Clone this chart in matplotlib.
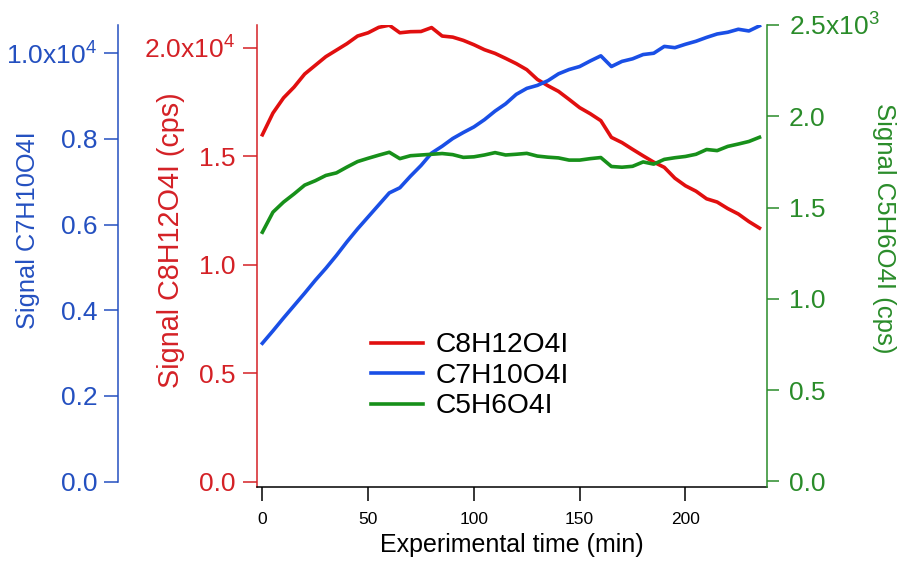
import matplotlib
matplotlib.use('Agg')
import matplotlib.pyplot as plt
from matplotlib.ticker import FixedLocator, FixedFormatter

# experimental time (min), sampled every 5 min
time_min = list(range(0, 240, 5))

# C8H12O4I signal (cps)
c8h12o4i = [16000, 17000, 17700, 18200, 18800, 19200, 19600, 19900, 20200, 20550,
            20700, 20950, 21050, 20700, 20750, 20760, 20940, 20550, 20500, 20350,
            20150, 19920, 19750, 19520, 19280, 19000, 18550, 18260, 18000, 17630,
            17250, 16970, 16650, 15880, 15640, 15330, 15030, 14740, 14500, 14000,
            13650, 13400, 13050, 12900, 12600, 12350, 12000, 11700]

# C7H10O4I signal
c7h10o4i = [3230, 3520, 3820, 4110, 4400, 4700, 4980, 5280, 5600, 5900,
            6180, 6460, 6740, 6860, 7130, 7380, 7670, 7830, 8010, 8150,
            8280, 8450, 8650, 8820, 9040, 9180, 9250, 9360, 9520, 9620,
            9690, 9820, 9940, 9690, 9810, 9870, 9970, 10000, 10160, 10130,
            10210, 10280, 10370, 10450, 10490, 10560, 10520, 10640]

# C5H6O4I signal (cps)
c5h6o4i = [1365, 1475, 1530, 1575, 1623, 1647, 1676, 1690, 1722, 1752,
           1770, 1787, 1803, 1768, 1784, 1788, 1792, 1796, 1790, 1775,
           1778, 1788, 1801, 1788, 1792, 1797, 1782, 1776, 1772, 1760,
           1760, 1768, 1774, 1725, 1721, 1726, 1750, 1738, 1764, 1773,
           1780, 1792, 1818, 1812, 1835, 1848, 1862, 1885]

red_ticks = [0, 5000, 10000, 15000, 20000]
red_labels = ['0.0', '0.5', '1.0', '1.5', '2.0x10$^4$']
blue_ticks = [0, 2000, 4000, 6000, 8000, 10000]
blue_labels = ['0.0', '0.2', '0.4', '0.6', '0.8', '1.0x10$^4$']
green_ticks = [0, 500, 1000, 1500, 2000, 2500]
green_labels = ['0.0', '0.5', '1.0', '1.5', '2.0', '2.5x10$^3$']
x_ticks = [0, 50, 100, 150, 200]

RED_LINE = '#e10f0f'
BLUE_LINE = '#1a4fe6'
GREEN_LINE = '#17901a'
RED_AX = '#d42126'
BLUE_AX = '#2450c0'
GREEN_AX = '#2a8c2a'

plt.rcParams['font.family'] = ['Liberation Sans', 'DejaVu Sans']
plt.rcParams['mathtext.default'] = 'regular'

fig = plt.figure(figsize=(8.99, 5.65), dpi=100)
ax = fig.add_axes([0.2862, 0.1381, 0.5666, 0.8177])
ax_b = ax.twinx()
ax_g = ax.twinx()

l1, = ax.plot(time_min, c8h12o4i, color=RED_LINE, lw=2.6, label='C8H12O4I')
l2, = ax_b.plot(time_min, c7h10o4i, color=BLUE_LINE, lw=2.6, label='C7H10O4I')
l3, = ax_g.plot(time_min, c5h6o4i, color=GREEN_LINE, lw=2.6, label='C5H6O4I')

ax.set_xlim(-2.4, 238.4)
ax.set_ylim(-230, 21060)
ax_b.set_ylim(-124, 10660)
ax_g.set_ylim(-30, 2500)

tick_kw = dict(width=1.1, direction='out')

# red (main) axis
for s in ['top', 'right']:
    ax.spines[s].set_visible(False)
ax.spines['left'].set_color(RED_AX)
ax.spines['left'].set_linewidth(1.1)
ax.spines['bottom'].set_linewidth(1.1)
ax.yaxis.set_major_locator(FixedLocator(red_ticks))
ax.yaxis.set_major_formatter(FixedFormatter(red_labels))
ax.tick_params(axis='y', colors=RED_AX, labelsize=19, pad=6, length=10, **tick_kw)
ax.set_xticks(x_ticks)
ax.tick_params(axis='x', labelsize=12.5, pad=8, length=10, **tick_kw)
ax.set_xlabel('Experimental time (min)', fontsize=18, labelpad=4)
ax.set_ylabel('Signal C8H12O4I (cps)', fontsize=20.7, color=RED_AX)
ax.yaxis.set_label_coords(-0.169, 0.535)
ax.yaxis.label.set_va('center')
ax.yaxis.label.set_ha('center')

# blue axis, pushed out to the left
for s in ['top', 'right', 'bottom']:
    ax_b.spines[s].set_visible(False)
ax_b.spines['left'].set_visible(True)
ax_b.spines['left'].set_position(('axes', -0.2729))
ax_b.spines['left'].set_bounds(0, 10660)
ax_b.spines['left'].set_color(BLUE_AX)
ax_b.spines['left'].set_linewidth(1.1)
ax_b.yaxis.set_ticks_position('left')
ax_b.yaxis.set_label_position('left')
ax_b.yaxis.set_major_locator(FixedLocator(blue_ticks))
ax_b.yaxis.set_major_formatter(FixedFormatter(blue_labels))
ax_b.tick_params(axis='y', colors=BLUE_AX, labelsize=19, pad=5, length=10, **tick_kw)
ax_b.set_ylabel('Signal C7H10O4I', fontsize=18.3, color=BLUE_AX)
ax_b.yaxis.set_label_coords(-0.450, 0.556)
ax_b.yaxis.label.set_va('center')
ax_b.yaxis.label.set_ha('center')

# green axis on the right
for s in ['top', 'left', 'bottom']:
    ax_g.spines[s].set_visible(False)
ax_g.spines['right'].set_color(GREEN_AX)
ax_g.spines['right'].set_linewidth(1.1)
ax_g.yaxis.set_major_locator(FixedLocator(green_ticks))
ax_g.yaxis.set_major_formatter(FixedFormatter(green_labels))
ax_g.tick_params(axis='y', colors=GREEN_AX, labelsize=19, pad=7.5, length=8.5, **tick_kw)
ax_g.set_ylabel('Signal C5H6O4I (cps)', fontsize=18.5, color=GREEN_AX, rotation=270)
ax_g.yaxis.set_label_coords(1.230, 0.561)
ax_g.yaxis.label.set_va('center')
ax_g.yaxis.label.set_ha('center')

fig.legend([l1, l2, l3], ['C8H12O4I', 'C7H10O4I', 'C5H6O4I'],
           loc='upper left', bbox_to_anchor=(0.4123, 0.4117),
           frameon=False, fontsize=20.3, handlelength=1.84, handletextpad=0.45,
           labelspacing=0.16, borderpad=0, borderaxespad=0)

fig.savefig('out.png', dpi=100)
